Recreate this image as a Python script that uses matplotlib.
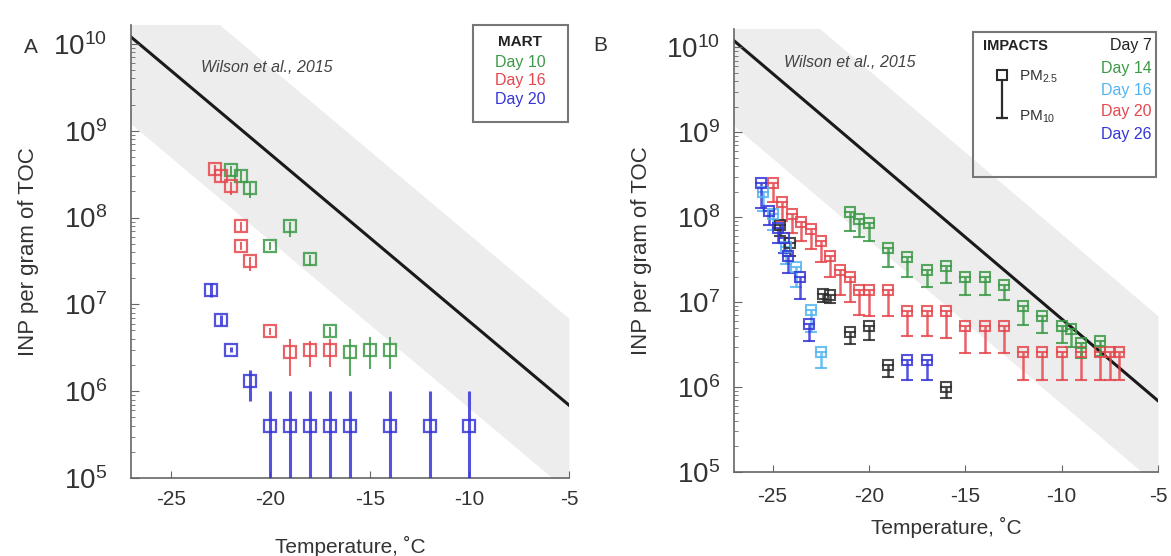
import matplotlib
matplotlib.use("Agg")
import matplotlib.pyplot as plt
from matplotlib.patches import Rectangle

plt.rcParams['font.family'] = ['Liberation Sans', 'DejaVu Sans']
plt.rcParams['mathtext.fontset'] = 'custom'
plt.rcParams['mathtext.rm'] = 'Liberation Sans'
plt.rcParams['mathtext.it'] = 'Liberation Sans:italic'
plt.rcParams['mathtext.bf'] = 'Liberation Sans:bold'

# Wilson et al. (2015) parameterisation, end points and band
wilson_t = [-27, -5]
wilson_inp = [1.2e10, 6.9e5]
band_lo = [1.2e9, 6.9e4]
band_hi = [1.2e11, 6.9e6]

# ---- A: MART (value, lower, upper)
mart_d10_t = [-22, -21.5, -21, -20, -19, -18, -17, -16, -15, -14]
mart_d10 = [3.5e8, 3.0e8, 2.2e8, 4.7e7, 8.0e7, 3.3e7, 4.9e6, 2.8e6, 3.0e6, 3.0e6]
mart_d10_lo = [3.0e8, 2.5e8, 1.7e8, 4.2e7, 6.0e7, 2.8e7, 4.3e6, 1.5e6, 1.8e6, 1.8e6]
mart_d10_hi = [3.9e8, 3.4e8, 2.5e8, 5.2e7, 9.0e7, 3.7e7, 5.5e6, 4.0e6, 4.2e6, 4.2e6]

mart_d16_t = [-22.8, -22.5, -22.0, -21.5, -21.5, -21.0, -20, -19, -18, -17]
mart_d16 = [3.6e8, 3.0e8, 2.3e8, 7.9e7, 4.7e7, 3.2e7, 4.9e6, 2.8e6, 2.95e6, 3.0e6]
mart_d16_lo = [3.1e8, 2.6e8, 1.8e8, 7.0e7, 4.2e7, 2.4e7, 4.4e6, 1.5e6, 1.9e6, 1.9e6]
mart_d16_hi = [4.0e8, 3.4e8, 2.6e8, 8.8e7, 5.2e7, 3.5e7, 5.4e6, 4.0e6, 3.8e6, 4.0e6]

mart_d20_t = [-23, -22.5, -22, -21, -20, -19, -18, -17, -16, -14, -12, -10]
mart_d20 = [1.45e7, 6.6e6, 3.0e6, 1.3e6, 4e5, 4e5, 4e5, 4e5, 4e5, 4e5, 4e5, 4e5]
mart_d20_lo = [1.2e7, 5.8e6, 2.8e6, 7.7e5, 1e4, 1e4, 1e4, 1e4, 1e4, 1e4, 1e4, 1e4]
mart_d20_hi = [1.75e7, 7.6e6, 3.2e6, 1.75e6, 1e6, 1e6, 1e6, 1e6, 1e6, 1e6, 1e6, 1e6]

# ---- B: IMPACTS (PM2.5 value on top, PM10 value at the cap)
imp_d7_t = [-24.6, -24.1, -22.4, -22.0, -21, -20, -19, -16]
imp_d7_pm25 = [8.0e7, 5.0e7, 1.25e7, 1.2e7, 4.5e6, 5.2e6, 1.8e6, 1.0e6]
imp_d7_pm10 = [6.0e7, 3.5e7, 1.0e7, 9.8e6, 3.2e6, 3.6e6, 1.3e6, 7.4e5]

imp_d14_t = [-21, -20.5, -20, -19, -18, -17, -16, -15, -14, -13,
             -12, -11, -10, -9.5, -9, -8]
imp_d14_pm25 = [1.15e8, 9.6e7, 8.6e7, 4.4e7, 3.4e7, 2.4e7, 2.7e7, 2.0e7, 2.0e7, 1.6e7,
                8.9e6, 6.8e6, 5.3e6, 4.8e6, 3.3e6, 3.5e6]
imp_d14_pm10 = [6.8e7, 5.9e7, 5.3e7, 2.6e7, 2.0e7, 1.5e7, 1.7e7, 1.2e7, 1.2e7, 1.07e7,
                5.4e6, 4.3e6, 3.3e6, 3.0e6, 2.2e6, 2.3e6]

imp_d16_t = [-25.5, -25.0, -24.3, -23.8, -23.0, -22.5]
imp_d16_pm25 = [2.0e8, 1.1e8, 4.5e7, 2.6e7, 8.0e6, 2.6e6]
imp_d16_pm10 = [1.2e8, 7.0e7, 2.8e7, 1.5e7, 4.5e6, 1.7e6]

imp_d20_t = [-25, -24.5, -24, -23.5, -23, -22.5, -22, -21.5, -21, -20.5, -20, -19,
             -18, -17, -16, -15, -14, -13, -12, -11, -10, -9, -8, -7.5, -7]
imp_d20_pm25 = [2.5e8, 1.5e8, 1.1e8, 8.9e7, 7.2e7, 5.2e7, 3.5e7, 2.4e7, 2.0e7, 1.4e7, 1.4e7, 1.4e7,
                7.8e6, 7.8e6, 7.8e6, 5.2e6, 5.2e6, 5.2e6, 2.6e6, 2.6e6, 2.6e6, 2.6e6, 2.6e6, 2.6e6, 2.6e6]
imp_d20_pm10 = [1.5e8, 9.0e7, 6.5e7, 5.2e7, 4.2e7, 3.0e7, 2.0e7, 1.2e7, 1.0e7, 7.0e6, 6.8e6, 6.8e6,
                4.0e6, 4.0e6, 3.8e6, 2.5e6, 2.5e6, 2.5e6, 1.2e6, 1.2e6, 1.2e6, 1.2e6, 1.2e6, 1.2e6, 1.2e6]

imp_d26_t = [-25.6, -25.2, -24.7, -24.4, -24.2, -23.6, -23.1, -18, -17]
imp_d26_pm25 = [2.5e8, 1.2e8, 7.5e7, 5.7e7, 3.5e7, 2.0e7, 5.5e6, 2.1e6, 2.1e6]
imp_d26_pm10 = [1.3e8, 8.0e7, 5.0e7, 3.8e7, 2.2e7, 1.1e7, 3.5e6, 1.2e6, 1.2e6]

GREEN = '#3c9a46'
RED = '#e5474d'
BLUE = '#3535d8'
CYAN = '#55b4f0'
BLACK = '#2b2b2b'
TXT = '#333333'
YMIN, YMAX = 1e5, 1.65e10


def setup_axes(ax, ypad):
    ax.set_yscale('log')
    ax.set_xlim(-27, -5)
    ax.set_ylim(YMIN, YMAX)
    ax.set_xticks([-25, -20, -15, -10, -5])
    ax.set_xticklabels(['-25', '-20', '-15', '-10', '-5'])
    ax.set_yticks([1e5, 1e6, 1e7, 1e8, 1e9, 1e10])
    for s in ['top', 'right']:
        ax.spines[s].set_visible(False)
    for s in ['left', 'bottom']:
        ax.spines[s].set_color('#666666')
        ax.spines[s].set_linewidth(1.2)
    ax.tick_params(axis='both', which='both', direction='in', colors='#666666')
    ax.tick_params(axis='x', labelsize=15, labelcolor=TXT, length=5, pad=9)
    ax.tick_params(axis='y', which='major', labelsize=20, labelcolor=TXT, length=6, pad=ypad)
    ax.tick_params(axis='y', which='minor', length=3)
    ax.set_ylabel('INP per gram of TOC', fontsize=16, color=TXT, labelpad=10)
    ax.fill_between(wilson_t, band_lo, band_hi, color='#ededed', lw=0, zorder=0)
    ax.plot(wilson_t, wilson_inp, color='#1a1a1a', lw=2.2, zorder=1)


fig = plt.figure(figsize=(11.71, 5.56), dpi=100)

# ---------------- panel A
axA = fig.add_axes([0.1119, 0.1403, 0.3740, 0.8147])
setup_axes(axA, 17)
axA.set_xlabel('Temperature, ˚C', fontsize=15, color=TXT, labelpad=19)
axA.text(-20.2, 5.3e9, 'Wilson et al., 2015', style='italic', fontsize=11.5,
         color='#444444', ha='center', va='center')

for t, v, lo, hi, c, lw in [
        (mart_d20_t, mart_d20, mart_d20_lo, mart_d20_hi, BLUE, 2.2),
        (mart_d10_t, mart_d10, mart_d10_lo, mart_d10_hi, GREEN, 1.5),
        (mart_d16_t, mart_d16, mart_d16_lo, mart_d16_hi, RED, 1.5)]:
    yerr = [[a - b for a, b in zip(v, lo)], [b - a for a, b in zip(v, hi)]]
    axA.errorbar(t, v, yerr=yerr, fmt='s', ms=9, mfc='none', mec=c, mew=1.6,
                 ecolor=c, elinewidth=lw, capsize=0, alpha=0.85, zorder=3)

axA.add_patch(Rectangle((0.781, 0.786), 0.216, 0.213, transform=axA.transAxes,
                        fill=False, ec='#777777', lw=1.5, clip_on=False, zorder=5))
axA.text(0.889, 0.962, 'MART', transform=axA.transAxes, ha='center', va='center',
         fontsize=11, fontweight='bold', color='#222222')
for ty, lab, c in [(0.918, 'Day 10', GREEN), (0.877, 'Day 16', RED), (0.836, 'Day 20', BLUE)]:
    axA.text(0.889, ty, lab, transform=axA.transAxes, ha='center', va='center',
             fontsize=11.5, color=c)
fig.text(0.026, 0.915, 'A', fontsize=15, color=TXT, ha='center', va='center')

# ---------------- panel B
axB = fig.add_axes([0.6268, 0.1511, 0.3621, 0.7968])
setup_axes(axB, 10)
axB.tick_params(axis='x', pad=11)
axB.set_xlabel('Temperature, ˚C', fontsize=15, color=TXT, labelpad=8)
axB.text(-21.0, 6.7e9, 'Wilson et al., 2015', style='italic', fontsize=11.5,
         color='#444444', ha='center', va='center')

for t, p25, p10, c in [
        (imp_d20_t, imp_d20_pm25, imp_d20_pm10, RED),
        (imp_d14_t, imp_d14_pm25, imp_d14_pm10, GREEN),
        (imp_d7_t, imp_d7_pm25, imp_d7_pm10, BLACK),
        (imp_d16_t, imp_d16_pm25, imp_d16_pm10, CYAN),
        (imp_d26_t, imp_d26_pm25, imp_d26_pm10, BLUE)]:
    yerr = [[a - b for a, b in zip(p25, p10)], [0] * len(p25)]
    axB.errorbar(t, p25, yerr=yerr, fmt='s', ms=7.5, mfc='none', mec=c, mew=1.5,
                 ecolor=c, elinewidth=1.8, capsize=4, capthick=1.8, alpha=0.85, zorder=3)

axB.add_patch(Rectangle((0.564, 0.666), 0.431, 0.327, transform=axB.transAxes,
                        fill=False, ec='#777777', lw=1.5, clip_on=False, zorder=5))
axB.text(0.587, 0.962, 'IMPACTS', transform=axB.transAxes, ha='left', va='center',
         fontsize=10.5, fontweight='bold', color='#222222')
for ty, lab, c in [(0.962, 'Day 7', '#222222'), (0.910, 'Day 14', GREEN),
                   (0.862, 'Day 16', CYAN), (0.813, 'Day 20', RED), (0.761, 'Day 26', BLUE)]:
    axB.text(0.985, ty, lab, transform=axB.transAxes, ha='right', va='center',
             fontsize=11.5, color=c)
# PM2.5 / PM10 key
axB.plot([0.632, 0.632], [0.896, 0.799], transform=axB.transAxes, color=BLACK, lw=1.6)
axB.plot([0.632], [0.896], transform=axB.transAxes, marker='s', ms=7.5,
         mfc='white', mec=BLACK, mew=1.5)
axB.plot([0.632], [0.799], transform=axB.transAxes, marker='_', ms=9, mec=BLACK, mew=1.6)
axB.text(0.672, 0.893, 'PM$_{2.5}$', transform=axB.transAxes, ha='left', va='center',
         fontsize=11, color=TXT)
axB.text(0.672, 0.802, 'PM$_{10}$', transform=axB.transAxes, ha='left', va='center',
         fontsize=11, color=TXT)
fig.text(0.513, 0.918, 'B', fontsize=15, color=TXT, ha='center', va='center')

fig.savefig('out.png', dpi=100)
